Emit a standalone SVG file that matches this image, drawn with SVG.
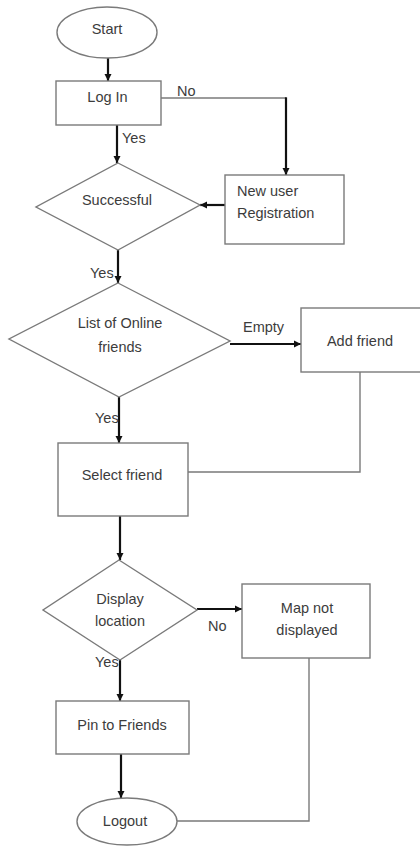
<svg xmlns="http://www.w3.org/2000/svg" width="420" height="848" viewBox="0 0 420 848">
  <style>
    .shape { fill: #ffffff; stroke: #7a7a7a; stroke-width: 1.4; }
    .lbl { font-family: "Liberation Sans", Arial, sans-serif; font-size: 14.5px; fill: #3c3c3c; }
    .mid { text-anchor: middle; }
    .flow { fill: none; stroke: #111111; stroke-width: 2.2; }
    .plain { fill: none; stroke: #7a7a7a; stroke-width: 1.4; }
  </style>
  <defs>
    <marker id="arrow" viewBox="0 0 8 8" refX="8" refY="4" markerWidth="3.4" markerHeight="3.4" orient="auto" markerUnits="strokeWidth">
      <path d="M0,0 L8,4 L0,8 z" fill="#111111"/>
    </marker>
  </defs>

  <rect width="420" height="848" fill="#ffffff"/>

  <!-- connectors -->
  <g id="connectors">
    <line class="flow" x1="108" y1="58" x2="108" y2="81" marker-end="url(#arrow)"/>
    <line class="flow" x1="117" y1="125" x2="117" y2="163" marker-end="url(#arrow)"/>
    <line class="plain" x1="161" y1="98" x2="286" y2="98"/>
    <line class="flow" x1="286" y1="97.3" x2="286" y2="175" marker-end="url(#arrow)"/>
    <line class="flow" x1="225" y1="205" x2="200" y2="205" marker-end="url(#arrow)"/>
    <line class="flow" x1="118" y1="250" x2="118" y2="283" marker-end="url(#arrow)"/>
    <line class="flow" x1="230" y1="344" x2="301" y2="344" marker-end="url(#arrow)"/>
    <polyline class="plain" points="360,372 360,472 188,472"/>
    <line class="flow" x1="119" y1="397" x2="119" y2="443" marker-end="url(#arrow)"/>
    <line class="flow" x1="120" y1="516" x2="120" y2="560" marker-end="url(#arrow)"/>
    <line class="flow" x1="197" y1="609" x2="242" y2="609" marker-end="url(#arrow)"/>
    <line class="flow" x1="120" y1="660" x2="120" y2="701" marker-end="url(#arrow)"/>
    <line class="flow" x1="121" y1="754" x2="121" y2="798" marker-end="url(#arrow)"/>
    <polyline class="plain" points="309,658 309,821 177,821"/>

    <text class="lbl" x="177" y="96">No</text>
    <text class="lbl" x="122" y="143">Yes</text>
    <text class="lbl" x="90" y="278">Yes</text>
    <text class="lbl" x="243" y="332">Empty</text>
    <text class="lbl" x="95" y="423">Yes</text>
    <text class="lbl" x="208" y="631">No</text>
    <text class="lbl" x="95" y="667">Yes</text>
  </g>

  <!-- nodes -->
  <g id="start">
    <ellipse class="shape" cx="107" cy="32.5" rx="50" ry="25.5"/>
    <text class="lbl mid" x="107" y="34">Start</text>
  </g>

  <g id="login">
    <rect class="shape" x="56" y="81" width="105" height="44"/>
    <text class="lbl mid" x="107.5" y="102">Log In</text>
  </g>

  <g id="successful">
    <polygon class="shape" points="118,163 200,205 118,250 36,207"/>
    <text class="lbl mid" x="117" y="205">Successful</text>
  </g>

  <g id="registration">
    <rect class="shape" x="225" y="175" width="119" height="69"/>
    <text class="lbl" x="237" y="196">New user</text>
    <text class="lbl" x="237" y="218">Registration</text>
  </g>

  <g id="online-list">
    <polygon class="shape" points="118,283 230,341 119,397 9,339"/>
    <text class="lbl mid" x="120" y="328">List of Online</text>
    <text class="lbl mid" x="120" y="352">friends</text>
  </g>

  <g id="add-friend">
    <rect class="shape" x="301" y="308" width="125" height="64"/>
    <text class="lbl mid" x="360" y="346">Add friend</text>
  </g>

  <g id="select-friend">
    <rect class="shape" x="58" y="443" width="130" height="73"/>
    <text class="lbl mid" x="122" y="480">Select friend</text>
  </g>

  <g id="display-location">
    <polygon class="shape" points="119,560 197,610 120,660 43,610"/>
    <text class="lbl mid" x="120" y="604">Display</text>
    <text class="lbl mid" x="120" y="626">location</text>
  </g>

  <g id="map-not-displayed">
    <rect class="shape" x="242" y="584" width="128" height="74"/>
    <text class="lbl mid" x="307" y="613">Map not</text>
    <text class="lbl mid" x="307" y="635">displayed</text>
  </g>

  <g id="pin-to-friends">
    <rect class="shape" x="56" y="701" width="133" height="53"/>
    <text class="lbl mid" x="122" y="730">Pin to Friends</text>
  </g>

  <g id="logout">
    <ellipse class="shape" cx="127" cy="821.5" rx="50" ry="23.5"/>
    <text class="lbl mid" x="125" y="826">Logout</text>
  </g>
</svg>
